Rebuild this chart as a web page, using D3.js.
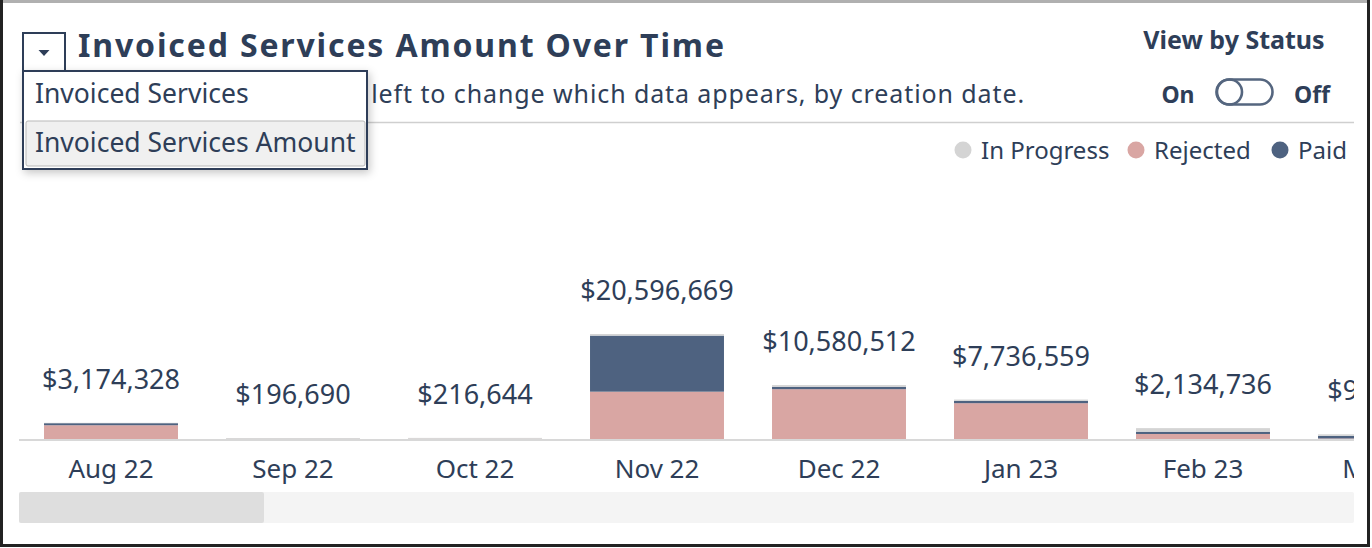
<!DOCTYPE html>
<html><head><meta charset="utf-8">
<script src="https://cdn.jsdelivr.net/npm/d3@7"></script>
<style>
body{margin:0;background:#fff}
svg{display:block;font-family:"Noto Sans",sans-serif}
</style>
</head><body>
<svg id="c" width="1372" height="548"></svg>
<script>
// ---- data ----
const months = ["Aug 22","Sep 22","Oct 22","Nov 22","Dec 22","Jan 23","Feb 23","Mar 23"];
const rejected   = [2703668, 33070, 38504, 9286669, 9770512, 7026559, 984736, 101468];
const paid       = [398250, 12400, 9800, 11000000, 480000, 450000, 450000, 520000];
const inProgress = [72410, 151220, 168340, 310000, 330000, 260000, 700000, 300000];
const stackKeys = ["Rejected","Paid","In Progress"];
const legendKeys = ["In Progress","Rejected","Paid"];
const seriesColors = ["#d4d4d4","#d9a6a3","#4e6280"]; // in legend order
const titleText = "Invoiced Services Amount Over Time";
const subtitleText = "Use the dropdown to the left to change which data appears, by creation date.";
const dropdownItems = ["Invoiced Services","Invoiced Services Amount"];
const toggleTitle = "View by Status";
const toggleLabels = ["On","Off"];

const TXT = "#2e3e58";
const svg = d3.select("#c");
const defs = svg.append("defs");
defs.append("clipPath").attr("id","plotClip").append("rect")
  .attr("x",19).attr("y",125).attr("width",1335).attr("height",360);
defs.append("clipPath").attr("id","subClip").append("rect")
  .attr("x",368).attr("y",72).attr("width",990).attr("height",45);
const sh = defs.append("filter").attr("id","shadow").attr("x","-10%").attr("y","-10%").attr("width","130%").attr("height","140%");
sh.append("feDropShadow").attr("dx",2).attr("dy",3).attr("stdDeviation",4).attr("flood-color","#000").attr("flood-opacity",0.22);
const bl = defs.append("filter").attr("id","soft");
bl.append("feGaussianBlur").attr("stdDeviation",0.7);

// frame
svg.append("rect").attr("x",1.5).attr("y",1.5).attr("width",1367).attr("height",544)
  .attr("fill","#fff").attr("stroke","#222").attr("stroke-width",3);
svg.append("line").attr("x1",3).attr("x2",1367).attr("y1",1.5).attr("y2",1.5).attr("stroke","#b0b0b0").attr("stroke-width",3);

// ---- header ----
svg.append("text").attr("x",78).attr("y",57).attr("font-size",32).attr("font-weight",700)
  .attr("textLength",646).attr("lengthAdjust","spacing")
  .attr("fill",TXT).text(titleText);
svg.append("g").attr("clip-path","url(#subClip)").append("text")
  .attr("x",1025).attr("y",103).attr("text-anchor","end").attr("font-size",25)
  .attr("letter-spacing",0.9).attr("fill",TXT).text(subtitleText);
svg.append("line").attr("x1",20).attr("x2",1354).attr("y1",122.5).attr("y2",122.5)
  .attr("stroke","#cfcfcf").attr("stroke-width",1.5);

// toggle
svg.append("text").attr("x",1234).attr("y",49).attr("text-anchor","middle").attr("font-size",25)
  .attr("font-weight",700).attr("fill",TXT).text(toggleTitle);
svg.append("text").attr("x",1178).attr("y",103).attr("text-anchor","middle").attr("font-size",23)
  .attr("font-weight",700).attr("fill",TXT).text(toggleLabels[0]);
svg.append("text").attr("x",1312).attr("y",103).attr("text-anchor","middle").attr("font-size",23)
  .attr("font-weight",700).attr("fill",TXT).text(toggleLabels[1]);
const tg = svg.append("g").attr("filter","url(#soft)").attr("fill","none").attr("stroke","#55667f").attr("stroke-width",2.6);
tg.append("rect").attr("x",1216.5).attr("y",79.5).attr("width",56).attr("height",25).attr("rx",12.5);
tg.append("circle").attr("cx",1229.5).attr("cy",92).attr("r",12.5);

// legend
const legendX = [963, 1136, 1280];
const lg = svg.append("g");
legendKeys.forEach((k,i)=>{
  lg.append("circle").attr("cx",legendX[i]).attr("cy",150).attr("r",8.5).attr("fill",seriesColors[i]);
  lg.append("text").attr("x",legendX[i]+18).attr("y",159).attr("font-size",24).attr("fill",TXT).text(k);
});

// ---- chart ----
const rows = months.map((m,i)=>({month:m,"Rejected":rejected[i],"Paid":paid[i],"In Progress":inProgress[i]}));
const totals = rows.map(r=>r["Rejected"]+r["Paid"]+r["In Progress"]);
const stacked = d3.stack().keys(stackKeys)(rows);
const color = d3.scaleOrdinal().domain(legendKeys).range(seriesColors);

const x = d3.scaleBand().domain(months).range([20, 20+182*months.length]).paddingInner(0.264).paddingOuter(0.132);
const y = d3.scaleLinear().domain([0, 51.8e6]).range([439, 175]);

const plot = svg.append("g").attr("clip-path","url(#plotClip)");
plot.append("g").selectAll("g").data(stacked).join("g").attr("fill",d=>color(d.key))
  .selectAll("rect").data(d=>d).join("rect")
  .attr("x",d=>x(d.data.month)).attr("width",x.bandwidth())
  .attr("y",d=>y(d[1])).attr("height",d=>y(d[0])-y(d[1]));

plot.append("line").attr("x1",19).attr("x2",1354).attr("y1",440).attr("y2",440)
  .attr("stroke","#cbcbcb").attr("stroke-width",1.6);

const fmt = d3.format(",");
plot.append("g").selectAll("text").data(months).join("text")
  .attr("x",m=>x(m)+x.bandwidth()/2).attr("y",(m,i)=>y(totals[i])-34)
  .attr("text-anchor","middle").attr("font-size",27).attr("fill",TXT)
  .text((m,i)=>"$"+fmt(totals[i]));

const xAxis = plot.append("g").attr("transform","translate(0,440)")
  .call(d3.axisBottom(x).tickSize(0).tickPadding(0));
xAxis.select(".domain").remove();
xAxis.selectAll("text").attr("y",38).attr("dy",0).attr("font-size",26)
  .attr("font-family","Noto Sans, sans-serif").attr("fill",TXT);

// scrollbar
svg.append("rect").attr("x",19).attr("y",492).attr("width",1335).attr("height",31).attr("rx",2).attr("fill","#f4f4f4");
svg.append("rect").attr("x",19).attr("y",492).attr("width",245).attr("height",31).attr("rx",2).attr("fill","#dedede");

// ---- dropdown (drawn on top) ----
const dd = svg.append("g");
dd.append("rect").attr("x",23).attr("y",33).attr("width",42).attr("height",38)
  .attr("fill","#fff").attr("stroke",TXT).attr("stroke-width",2);
dd.append("path").attr("d","M38.5,50 L49.5,50 L44,56 Z").attr("fill",TXT);
dd.append("rect").attr("x",23).attr("y",71).attr("width",344).attr("height",98)
  .attr("fill","#fff").attr("stroke",TXT).attr("stroke-width",2).attr("filter","url(#shadow)");
dd.append("rect").attr("x",26).attr("y",121).attr("width",339).attr("height",45).attr("rx",2)
  .attr("fill","#f0f0f0").attr("stroke","#b9b9b9").attr("stroke-width",1);
dd.selectAll("text.item").data(dropdownItems).join("text").attr("class","item")
  .attr("x",35).attr("y",(d,i)=>103+i*49).attr("font-size",26.5).attr("fill",TXT).text(d=>d);
</script>
</body></html>
